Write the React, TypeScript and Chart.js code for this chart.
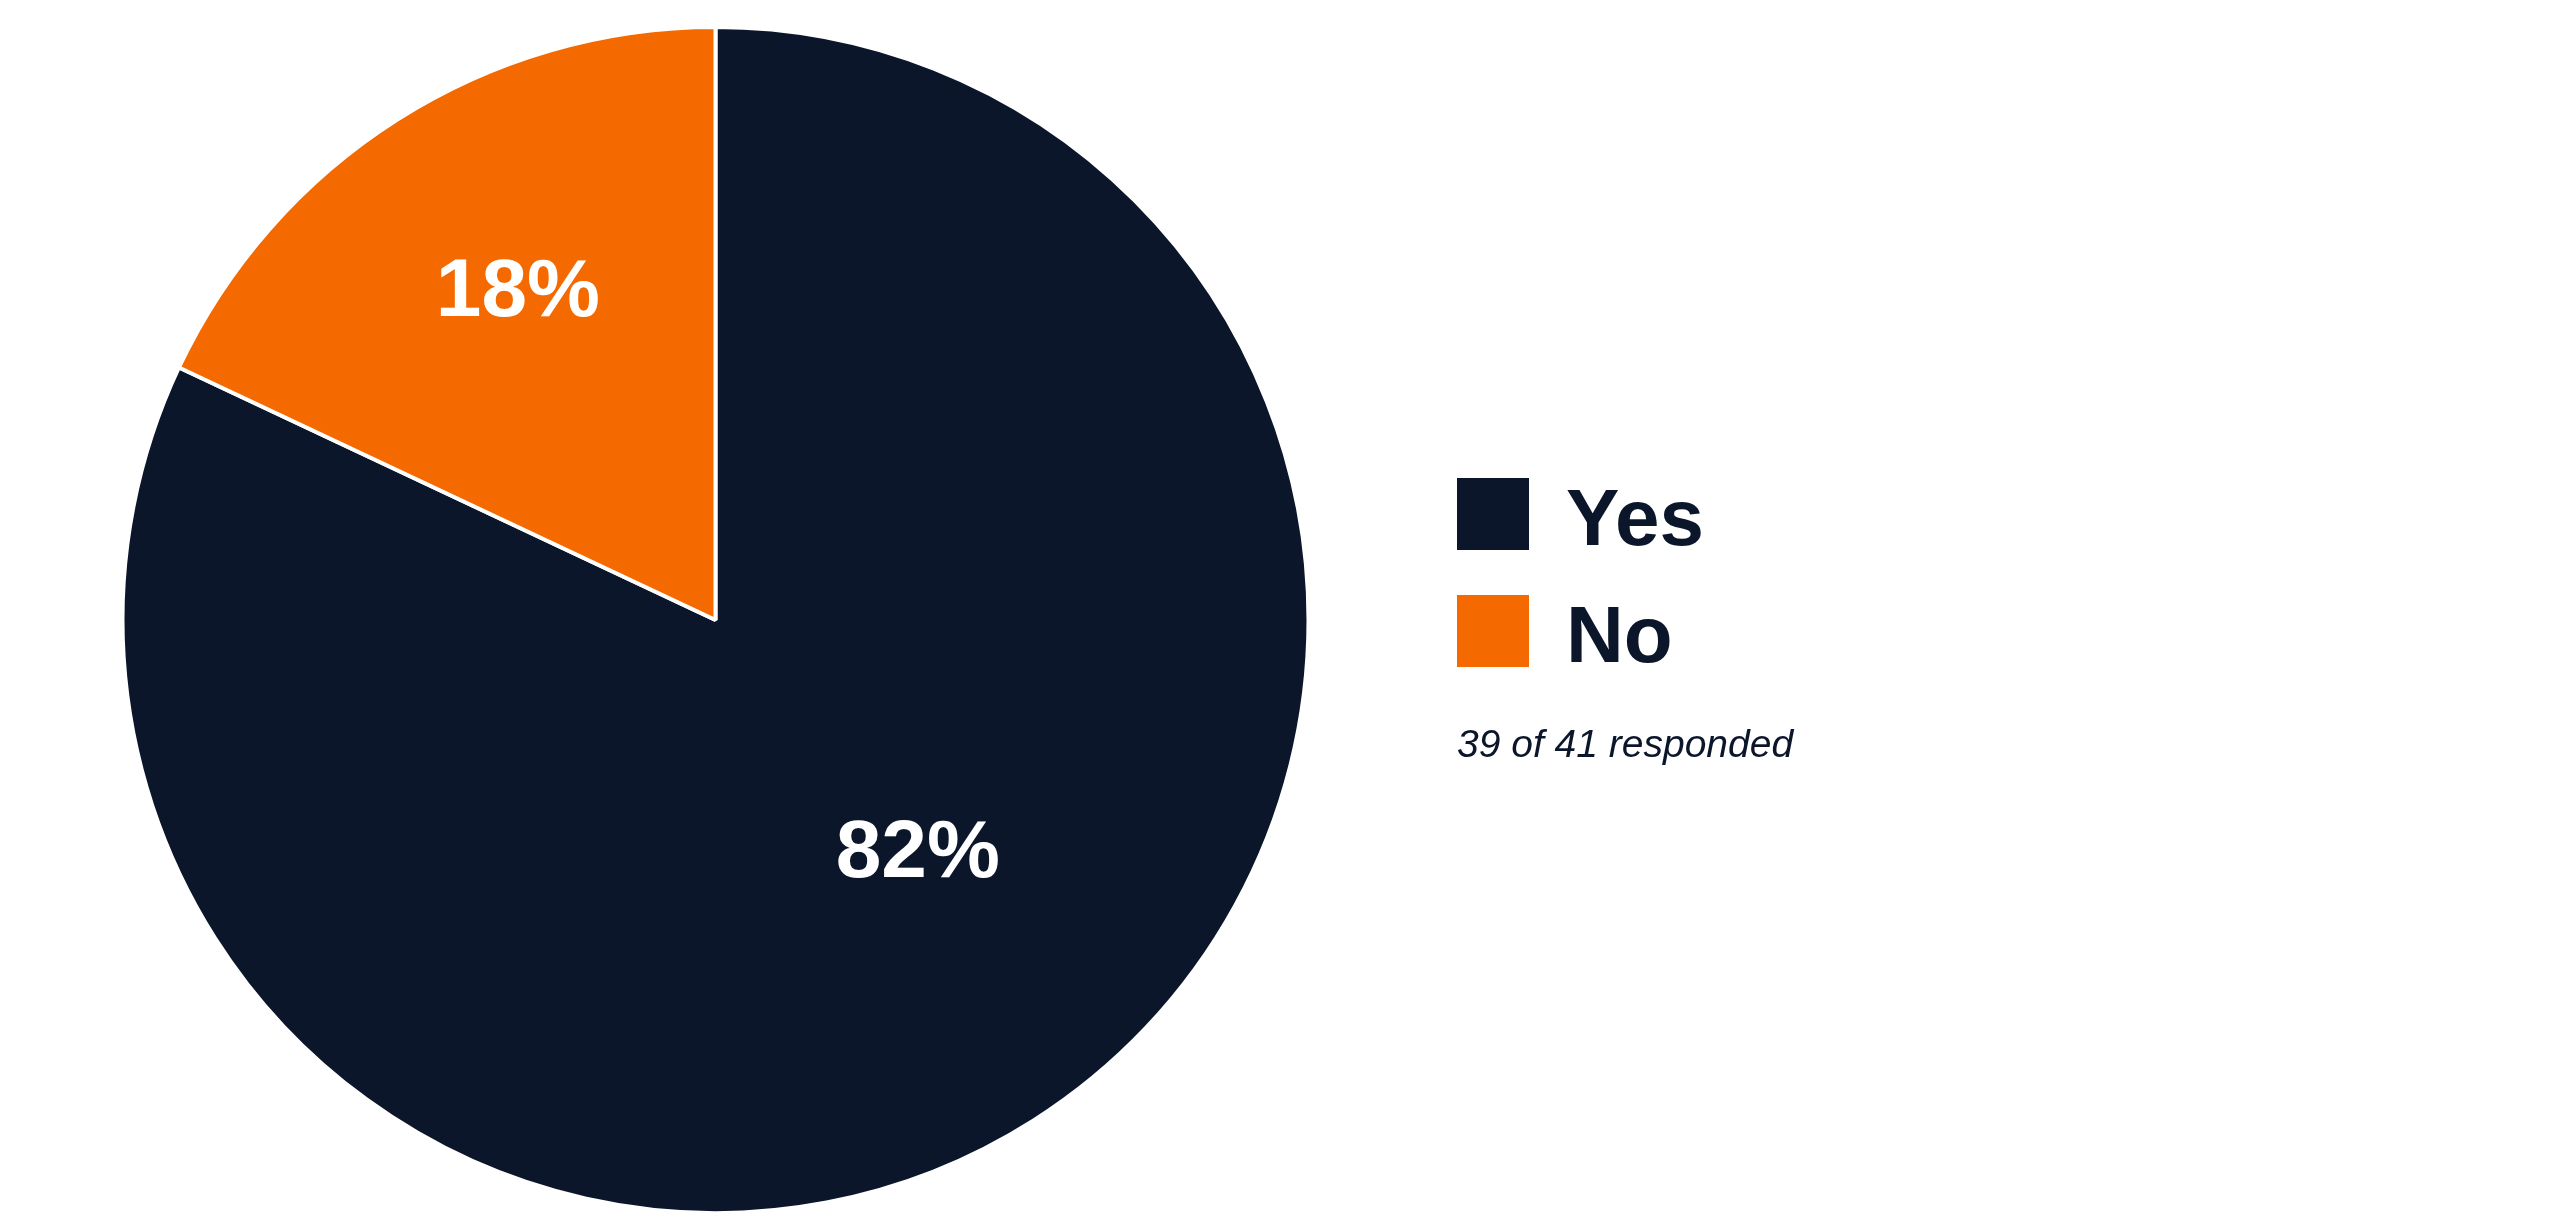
import React, { useEffect, useRef } from "react";
import { Chart, registerables } from "chart.js";

Chart.register(...registerables);

const categories = ["Yes", "No"];
const shares = [82, 18];
const sliceColors = ["#0B162B", "#F46A00"];
const valueLabels = ["82%", "18%"];
const noteText = "39 of 41 responded";

// label placement per slice: angle (deg clockwise from top) and radius fraction
const labelAngles = [139, 329];
const labelRadii = [0.52, 0.647];

const FONT = "'Liberation Sans', Arial, sans-serif";

const valueLabelPlugin = {
  id: "valueLabels",
  afterDatasetsDraw(chart: any) {
    const meta = chart.getDatasetMeta(0);
    const ctx = chart.ctx;
    ctx.save();
    ctx.fillStyle = "#FFFFFF";
    ctx.font = `bold 82px ${FONT}`;
    ctx.textAlign = "center";
    ctx.textBaseline = "middle";
    meta.data.forEach((arc: any, i: number) => {
      const a = (labelAngles[i] * Math.PI) / 180;
      const r = arc.outerRadius * labelRadii[i];
      const x = arc.x + r * Math.sin(a);
      const y = arc.y - r * Math.cos(a);
      ctx.fillText(valueLabels[i], x, y + 2);
    });
    ctx.restore();
  },
};

const legendPlugin = {
  id: "customLegend",
  afterDraw(chart: any) {
    const ctx = chart.ctx;
    ctx.save();
    const boxX = 1457;
    const boxTop0 = 478;
    const step = 117;
    const box = 72;
    categories.forEach((c, i) => {
      const top = boxTop0 + i * step;
      ctx.fillStyle = sliceColors[i];
      ctx.fillRect(boxX, top, box, box);
      ctx.fillStyle = "#0B162B";
      ctx.font = `bold 80px ${FONT}`;
      ctx.textAlign = "left";
      ctx.textBaseline = "alphabetic";
      ctx.fillText(c, 1566, top + 67);
    });
    ctx.font = `italic 39px ${FONT}`;
    ctx.fillStyle = "#0B162B";
    ctx.fillText(noteText, 1457, 757);
    ctx.restore();
  },
};

export default function App() {
  const ref = useRef<HTMLCanvasElement | null>(null);
  useEffect(() => {
    let chart: any = null;
    let cancelled = false;
    const build = () => {
      if (cancelled || !ref.current) return;
      chart = new Chart(ref.current, {
        type: "pie",
        data: {
          labels: categories,
          datasets: [
            {
              data: shares,
              backgroundColor: sliceColors,
              borderColor: "#FFFFFF",
              borderWidth: 4,
            },
          ],
        },
        options: {
          animation: false,
          responsive: false,
          maintainAspectRatio: false,
          layout: { padding: { left: 120, top: 25, right: 1249, bottom: 17 } },
          plugins: {
            legend: { display: false },
            tooltip: { enabled: false },
            title: { display: false },
          },
        },
        plugins: [valueLabelPlugin, legendPlugin],
      });
    };
    const fonts: any = (document as any).fonts;
    if (fonts && fonts.load) {
      Promise.all([
        fonts.load(`bold 82px 'Liberation Sans'`),
        fonts.load(`italic 39px 'Liberation Sans'`),
      ])
        .catch(() => null)
        .then(build);
    } else {
      build();
    }
    return () => {
      cancelled = true;
      if (chart) chart.destroy();
    };
  }, []);
  return (
    <div style={{ position: "fixed", left: 0, top: 0, width: 2560, height: 1232, background: "#FFFFFF" }}>
      <canvas ref={ref} width={2560} height={1232} style={{ width: 2560, height: 1232, display: "block" }} />
    </div>
  );
}
